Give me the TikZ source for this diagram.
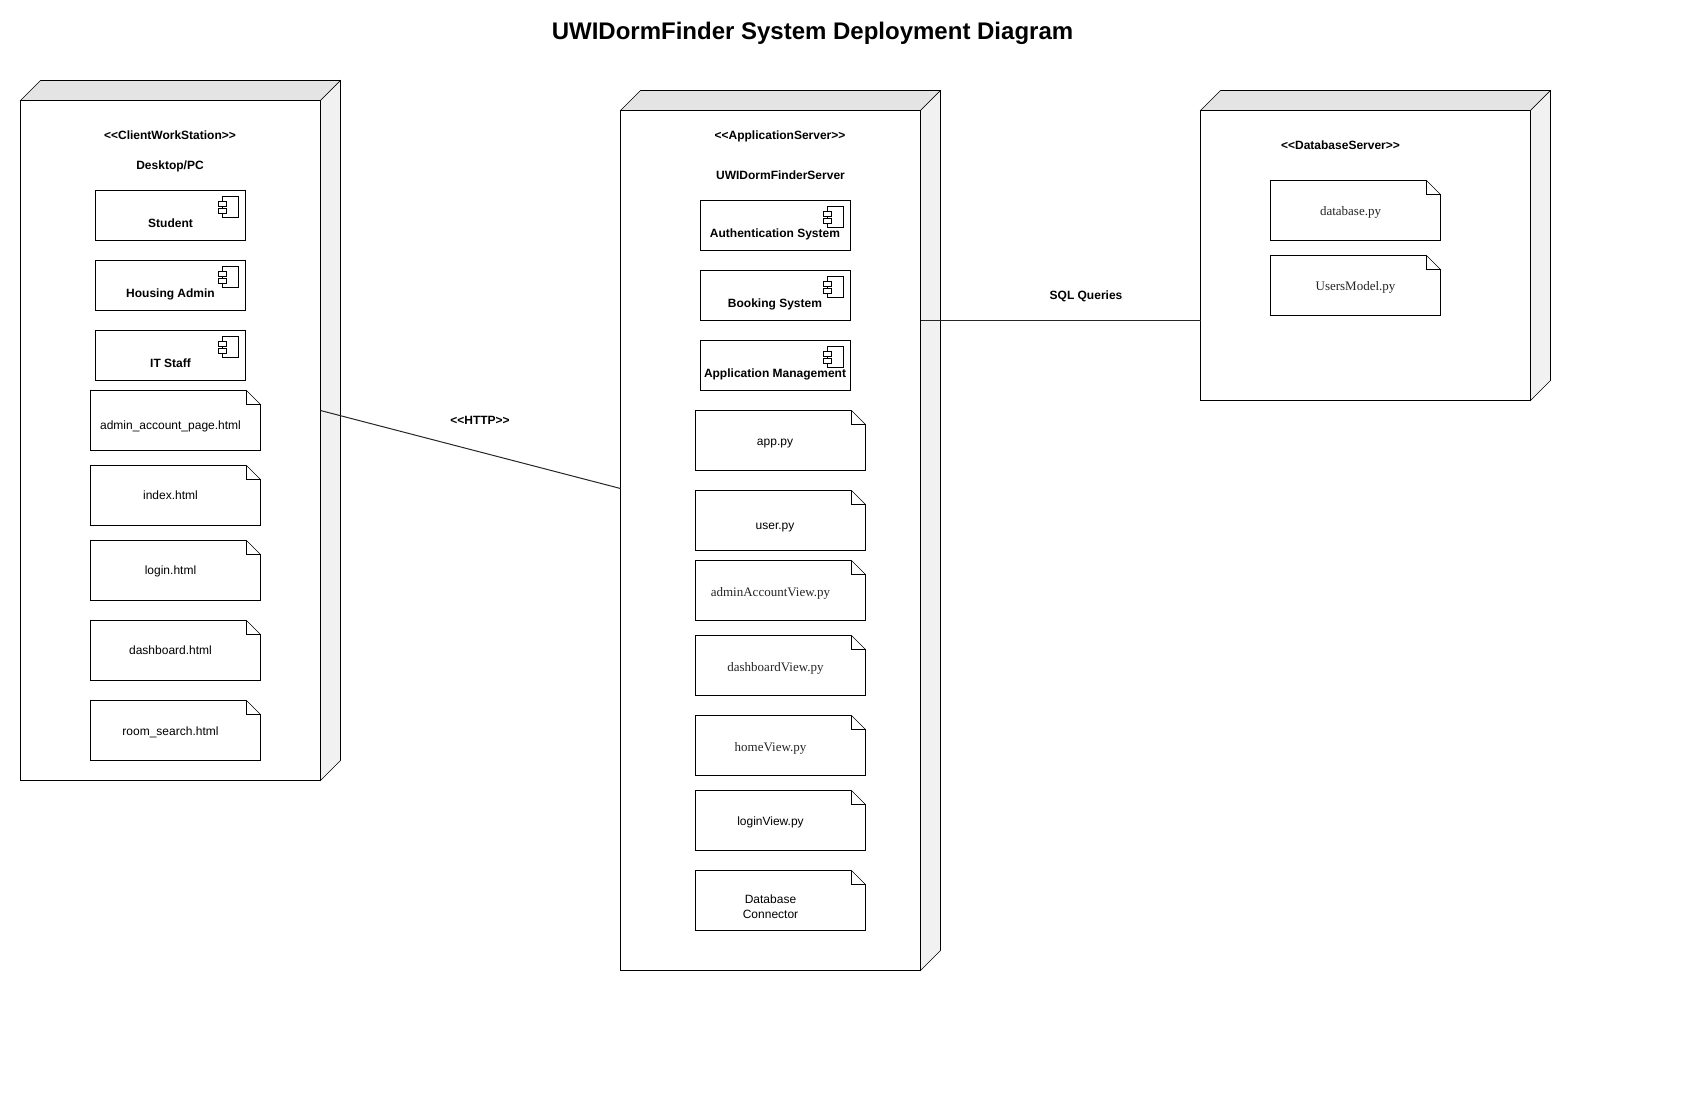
\documentclass[tikz,border=0pt]{standalone}
\usepackage{fontspec}
\setmainfont{Liberation Sans}
\newfontfamily\timesfont{Liberation Serif}
\usetikzlibrary{calc}
\definecolor{topface}{HTML}{E4E4E4}
\definecolor{sideface}{HTML}{F1F1F1}
\definecolor{ink}{HTML}{000000}
\tikzset{
  x=0.75pt,y=-0.75pt,
  line width=0.75pt,
  base/.style={draw=ink,fill=white,rectangle,inner sep=0pt,outer sep=0pt,anchor=north west,line join=miter},
  face/.style={draw=ink,line join=miter},
  lab/.style={font=\fontsize{9}{11}\selectfont\bfseries,text=ink,inner sep=0pt},
  sanstxt/.style={font=\fontsize{9}{11}\selectfont,text=ink,inner sep=0pt,align=center},
  sertxt/.style={font=\fontsize{9.75}{11}\selectfont\timesfont,text=ink!85,inner sep=0pt},
  conn/.style={draw=ink!85,line width=0.75pt},
}
% \depnode{name}{left}{top}{width}{height}
\newcommand{\depnode}[5]{%
  \node[base,minimum width=#4*0.75pt,minimum height=#5*0.75pt] (#1) at (#2,#3) {};
  \draw[face,fill=topface] (#1.north west) -- ++(20,-20) -- ($(#1.north east)+(20,-20)$) -- (#1.north east) -- cycle;
  \draw[face,fill=sideface] (#1.north east) -- ++(20,-20) -- ($(#1.south east)+(20,-20)$) -- (#1.south east) -- cycle;
}
% \compbox{name}{left}{top}
\newcommand{\compbox}[3]{%
  \node[base,minimum width=150*0.75pt,minimum height=50*0.75pt] (#1) at (#2,#3) {};
  \draw[fill=white] ($(#1.north east)+(-23,6)$) rectangle ($(#1.north east)+(-7,27)$);
  \draw[fill=white] ($(#1.north east)+(-27,11)$) rectangle ($(#1.north east)+(-19,16)$);
  \draw[fill=white] ($(#1.north east)+(-27,18)$) rectangle ($(#1.north east)+(-19,23)$);
}
% \notebox{name}{left}{top}
\newcommand{\notebox}[3]{%
  \node[inner sep=0pt,outer sep=0pt,anchor=north west,minimum width=170*0.75pt,minimum height=60*0.75pt] (#1) at (#2,#3) {};
  \draw[fill=white,line join=miter] (#1.north west) -- ($(#1.north east)+(-14,0)$) -- ($(#1.north east)+(0,14)$) -- (#1.south east) -- (#1.south west) -- cycle;
  \draw[line join=miter] ($(#1.north east)+(-14,0)$) -- ++(0,14) -- ++(14,0);
}
\begin{document}
\begin{tikzpicture}
\useasboundingbox (-0.5,-0.5) rectangle (1699.5,1099.5);
\fill[white] (-0.5,-0.5) rectangle (1699.5,1099.5);

\node[font=\fontsize{18}{22}\selectfont\bfseries,text=ink,inner sep=0pt] (title) at (812,32.5) {UWIDormFinder System Deployment Diagram};

% Client workstation
\depnode{client}{20}{100}{300}{680}
\node[lab] (clientst) at (169.5,134.7) {<{}<ClientWorkStation>{}>};
\node[lab] (clientnm) at (169.5,165.6) {Desktop/PC};
\compbox{student}{95}{190}
\compbox{housing}{95}{260}
\compbox{itstaff}{95}{330}
\node[lab] (studentt) at (170,222.3) {Student};
\node[lab] (housingt) at (170,294.4) {Housing Admin};
\node[lab] (itstafft) at (170,362.8) {IT Staff};
\notebox{adminhtml}{90}{390}
\notebox{indexhtml}{90}{465}
\notebox{loginhtml}{90}{540}
\notebox{dashhtml}{90}{620}
\notebox{roomhtml}{90}{700}
\node[sanstxt] (adminhtmlt) at (170,425.6) {admin\_account\_page.html};
\node[sanstxt] (indexhtmlt) at (170,495) {index.html};
\node[sanstxt] (loginhtmlt) at (170,571.1) {login.html};
\node[sanstxt] (dashhtmlt) at (170,650) {dashboard.html};
\node[sanstxt] (roomhtmlt) at (170,731.6) {room\_search.html};

% Application server
\depnode{app}{620}{110}{300}{860}
\node[lab] (appst) at (779.5,135.5) {<{}<ApplicationServer>{}>};
\node[lab] (appnm) at (780,174.5) {UWIDormFinderServer};
\compbox{auth}{700}{200}
\compbox{booking}{700}{270}
\compbox{appmgmt}{700}{340}
\node[lab] (autht) at (774.5,233.8) {Authentication System};
\node[lab] (bookingt) at (774.5,304.4) {Booking System};
\node[lab] (appmgmtt) at (774.5,374.4) {Application Management};
\notebox{apppy}{695}{410}
\notebox{userpy}{695}{490}
\notebox{adminpy}{695}{560}
\notebox{dashpy}{695}{635}
\notebox{homepy}{695}{715}
\notebox{loginpy}{695}{790}
\notebox{dbconn}{695}{870}
\node[sanstxt] (apppyt) at (774.5,442.8) {app.py};
\node[sanstxt] (userpyt) at (774.5,527.3) {user.py};
\node[sertxt] (adminpyt) at (770,592.7) {adminAccountView.py};
\node[sertxt] (dashpyt) at (775,667.7) {dashboardView.py};
\node[sertxt] (homepyt) at (770,747.7) {homeView.py};
\node[sanstxt] (loginpyt) at (770,821.7) {loginView.py};
\node[sanstxt] (dbconnt) at (770,906) {Database\\Connector};

% Database server
\depnode{db}{1200}{110}{330}{290}
\node[lab] (dbst) at (1340,145) {<{}<DatabaseServer>{}>};
\notebox{databasepy}{1270}{180}
\notebox{userspy}{1270}{255}
\node[sertxt] (databasepyt) at (1350,212) {database.py};
\node[sertxt] (userspyt) at (1355,287) {UsersModel.py};

% Connectors
\draw[conn] ($(client.east)+(0,-30)$) -- ($(app.west)+(0,-52)$);
\draw[conn] ($(app.east)+(0,-220)$) -- ($(db.west)+(0,65)$);
\node[lab] (httpl) at (479.5,419.5) {<{}<HTTP>{}>};
\node[lab] (sqll) at (1085.5,296) {SQL Queries};
\end{tikzpicture}
\end{document}
